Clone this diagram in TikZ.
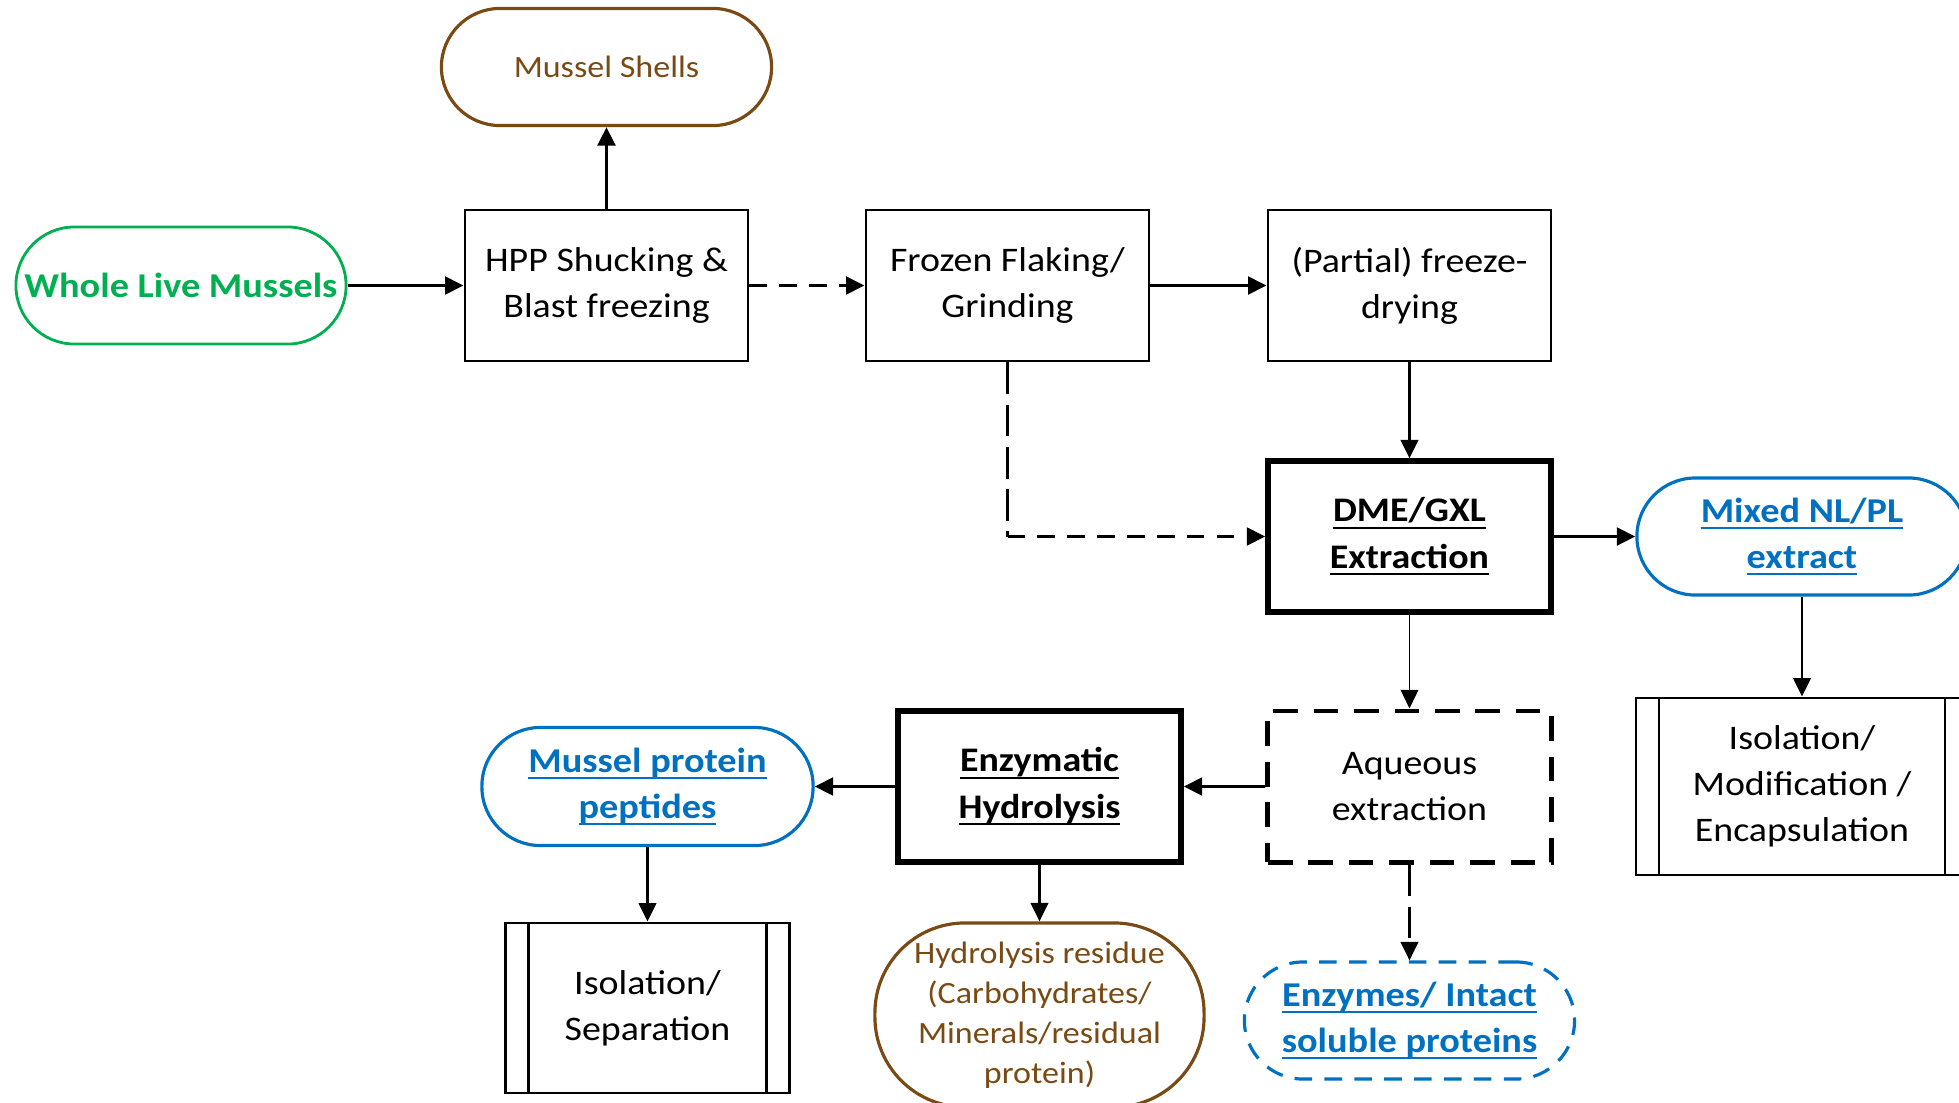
\documentclass[tikz,border=0pt]{standalone}
\usepackage{fontspec}
\setmainfont[FakeStretch=1.1]{Carlito}
\usetikzlibrary{arrows.meta}
\definecolor{shellbrown}{HTML}{7A4A14}
\definecolor{livegreen}{HTML}{00B050}
\definecolor{prodblue}{HTML}{0070C0}
% underline drawn at a fixed depth below the baseline
\newcommand{\uln}[1]{\setbox0\hbox{#1}\rlap{\vrule height -1.4pt depth 2.05pt width \wd0}\box0}
\begin{document}
\begin{tikzpicture}[x=0.01cm,y=-0.01cm,
  txt/.style={font=\fontsize{9.8}{13.1}\selectfont, align=center},
  proc/.style={txt, draw, line width=0.8pt, minimum width=2.83cm, minimum height=1.51cm, inner sep=0pt},
  keyproc/.style={proc, line width=1.5pt},
  dashproc/.style={proc, line width=1.4pt, dash pattern=on 7pt off 4.5pt},
  subproc/.style={proc, path picture={
      \draw[line width=0.8pt]
        ([xshift=0.23cm]path picture bounding box.north west) -- ([xshift=0.23cm]path picture bounding box.south west)
        ([xshift=-0.23cm]path picture bounding box.north east) -- ([xshift=-0.23cm]path picture bounding box.south east);}},
  term/.style={txt, draw, rounded corners=0.585cm, minimum width=3.3cm, minimum height=1.17cm, inner sep=0pt},
  inputterm/.style={term, draw=livegreen, line width=0.8pt, text=livegreen, font=\fontsize{9.9}{13.1}\selectfont\bfseries},
  wasteterm/.style={term, draw=shellbrown, line width=0.9pt, text=shellbrown, font=\fontsize{8.8}{11.4}\selectfont},
  prodterm/.style={term, draw=prodblue, line width=0.9pt, text=prodblue, font=\fontsize{9.9}{13.1}\selectfont\bfseries},
  arr/.style={-{Triangle[length=0.185cm,width=0.175cm]}, line width=1.1pt},
  thinarr/.style={arr, line width=0.7pt},
  hairarr/.style={arr, line width=0.35pt},
  dasharr/.style={arr, dash pattern=on 5pt off 3.5pt},
]
\useasboundingbox (0,0) rectangle (1959,1102);
\clip (0,0) rectangle (1959,1102);

% top row
\node[wasteterm] (shells) at (606.5,67) {Mussel Shells};
\node[inputterm] (whole) at (181,285.5) {Whole Live Mussels};
\node[proc] (hpp) at (606.5,285.5) {HPP Shucking \&\\Blast freezing};
\node[proc] (frozen) at (1007.5,285.5) {Frozen Flaking/\\Grinding};
\node[proc] (partial) at (1409.5,285.5) {(Partial) freeze-\\drying};

% extraction row
\node[keyproc, font=\fontsize{9.8}{13.1}\selectfont\bfseries] (dme) at (1409.5,536.5) {\uln{DME/GXL}\\\uln{Extraction}};
\node[prodterm] (mixed) at (1802,536.5) {\uln{Mixed NL/PL}\\\uln{extract}};
\node[subproc, minimum width=3.32cm, minimum height=1.77cm] (isomod) at (1802,786.5) {Isolation/\\Modification /\\Encapsulation};

% hydrolysis row
\node[dashproc] (aqueous) at (1409.5,786.5) {Aqueous\\extraction};
\node[keyproc, font=\fontsize{9.8}{13.1}\selectfont\bfseries] (enzym) at (1039.5,786.5) {\uln{Enzymatic}\\\uln{Hydrolysis}};
\node[prodterm, minimum width=3.31cm, minimum height=1.18cm] (peptides) at (647.5,786.5) {\uln{Mussel protein}\\\uln{peptides}};

% bottom row
\node[subproc, minimum width=2.84cm, minimum height=1.70cm] (isosep) at (647.5,1008) {Isolation/\\Separation};
\node[wasteterm, rounded corners=0.9cm, minimum width=3.29cm, minimum height=1.84cm] (residue) at (1039.5,1015)
  {Hydrolysis residue\\(Carbohydrates/\\Minerals/residual\\protein)};
\node[prodterm, dash pattern=on 5pt off 3.5pt] (enzymes) at (1409.5,1020.5) {\uln{Enzymes/ Intact}\\\uln{soluble proteins}};

% connectors
\draw[arr] (whole) -- (hpp);
\draw[arr] (hpp) -- (shells);
\draw[dasharr] (hpp) -- (frozen);
\draw[arr] (frozen) -- (partial);
\draw[thinarr] (partial) -- (dme);
\coordinate (bend) at (frozen.south |- dme.west);
\draw[line width=0.6pt, dash pattern=on 9pt off 3pt] (frozen.south) -- (bend);
\draw[dasharr] (bend) -- (dme.west);
\draw[arr] (dme) -- (mixed);
\draw[thinarr] (mixed) -- (isomod);
\draw[hairarr] (dme) -- (aqueous);
\draw[arr] (aqueous) -- (enzym);
\draw[arr] (enzym) -- (peptides);
\draw[thinarr] (peptides) -- (isosep);
\draw[thinarr] (enzym) -- (residue);
\draw[thinarr, dash pattern=on 9pt off 3pt] (aqueous) -- (enzymes);
\end{tikzpicture}
\end{document}
